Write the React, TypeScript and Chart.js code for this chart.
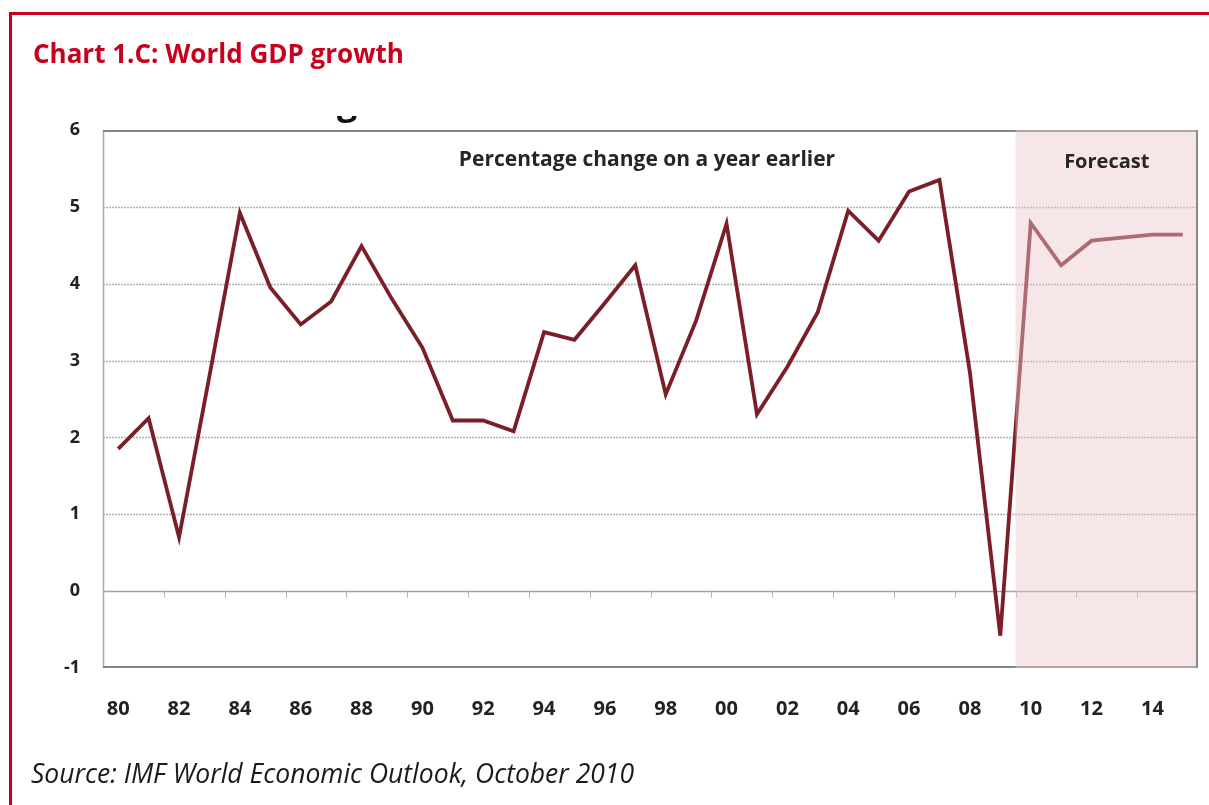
import React, { useEffect, useRef } from "react";
import { Chart, registerables } from "chart.js";

Chart.register(...registerables);

const years = [
  1980, 1981, 1982, 1983, 1984, 1985, 1986, 1987, 1988, 1989,
  1990, 1991, 1992, 1993, 1994, 1995, 1996, 1997, 1998, 1999,
  2000, 2001, 2002, 2003, 2004, 2005, 2006, 2007, 2008, 2009,
  2010, 2011, 2012, 2013, 2014, 2015,
];
const gdpGrowth = [
  1.85, 2.25, 0.7, 2.8, 4.92, 3.95, 3.47, 3.77, 4.49, 3.8,
  3.17, 2.22, 2.22, 2.08, 3.37, 3.27, 3.75, 4.24, 2.56, 3.52,
  4.78, 2.3, 2.92, 3.63, 4.95, 4.56, 5.2, 5.35, 2.85, -0.58,
  4.79, 4.24, 4.56, 4.6, 4.64, 4.64,
];
const yTicks = [-1, 0, 1, 2, 3, 4, 5, 6];
const forecastStartYear = 2010;
const titleText = "Chart 1.C: World GDP growth";
const noteText = "Percentage change on a year earlier";
const forecastText = "Forecast";
const sourceText = "Source: IMF World Economic Outlook, October 2010";

const RED = "#c8001e";
const LINE = "#7a1f28";
const CHART_FONT = "'Open Sans', sans-serif";

const framePlugin = {
  id: "framePlugin",
  beforeDatasetsDraw(chart: any) {
    const { ctx, chartArea: a, scales } = chart;
    const y = scales.y;
    const x = scales.x;
    ctx.save();
    for (const v of yTicks) {
      if (v === -1 || v === 6 || v === 0) continue;
      const py = Math.round(y.getPixelForValue(v)) + 0.5;
      ctx.strokeStyle = "#b0b0b0";
      ctx.lineWidth = 1.5;
      ctx.setLineDash([2, 1]);
      ctx.beginPath();
      ctx.moveTo(a.left, py);
      ctx.lineTo(a.right, py);
      ctx.stroke();
    }
    ctx.setLineDash([]);
    const p0 = Math.round(y.getPixelForValue(0)) + 0.5;
    ctx.strokeStyle = "#a0a0a0";
    ctx.lineWidth = 1.5;
    ctx.beginPath();
    ctx.moveTo(a.left, p0);
    ctx.lineTo(a.right, p0);
    ctx.stroke();
    ctx.strokeStyle = "#b0b0b0";
    ctx.lineWidth = 1;
    for (let i = 2; i < years.length; i += 2) {
      const bx = Math.round((x.getPixelForValue(i - 1) + x.getPixelForValue(i)) / 2) + 0.5;
      ctx.beginPath();
      ctx.moveTo(bx, p0);
      ctx.lineTo(bx, p0 + 6);
      ctx.stroke();
    }
    ctx.strokeStyle = "#a8a8a8";
    ctx.lineWidth = 1.5;
    ctx.beginPath();
    ctx.moveTo(a.left + 0.5, a.top);
    ctx.lineTo(a.left + 0.5, a.bottom);
    ctx.stroke();
    ctx.strokeStyle = "#858585";
    ctx.lineWidth = 2;
    ctx.beginPath();
    ctx.moveTo(a.left, a.top + 1);
    ctx.lineTo(a.right, a.top + 1);
    ctx.moveTo(a.left, a.bottom - 1);
    ctx.lineTo(a.right, a.bottom - 1);
    ctx.stroke();
    ctx.restore();
  },
  afterDatasetsDraw(chart: any) {
    const { ctx, chartArea: a, scales } = chart;
    const x = scales.x;
    const fi = years.indexOf(forecastStartYear);
    const fx = (x.getPixelForValue(fi - 1) + x.getPixelForValue(fi)) / 2;
    ctx.save();
    ctx.fillStyle = "rgba(236, 200, 203, 0.45)";
    ctx.fillRect(fx, a.top, a.right - fx, a.bottom - a.top);
    ctx.strokeStyle = "#8a8a8a";
    ctx.lineWidth = 2;
    ctx.beginPath();
    ctx.moveTo(a.right - 1, a.top);
    ctx.lineTo(a.right - 1, a.bottom);
    ctx.stroke();
    ctx.fillStyle = "#262626";
    ctx.textBaseline = "middle";
    ctx.textAlign = "center";
    ctx.font = `bold 21px ${CHART_FONT}`;
    ctx.fillText(noteText, 647, 160);
    ctx.font = `bold 20px ${CHART_FONT}`;
    ctx.fillText(forecastText, (fx + a.right) / 2, 162);
    ctx.restore();
  },
};

export default function App() {
  const ref = useRef<HTMLCanvasElement | null>(null);

  useEffect(() => {
    if (!ref.current) return;
    const chart = new Chart(ref.current, {
      type: "line",
      data: {
        labels: years.map(String),
        datasets: [
          {
            data: gdpGrowth,
            borderColor: LINE,
            borderWidth: 3.8,
            pointRadius: 0,
            tension: 0,
            fill: false,
          },
        ],
      },
      options: {
        responsive: false,
        animation: false,
        devicePixelRatio: 1,
        layout: { padding: { top: 130, right: 11, left: 0, bottom: 0 } },
        plugins: {
          legend: { display: false },
          tooltip: { enabled: false },
          title: { display: false },
        },
        scales: {
          x: {
            type: "category",
            offset: true,
            grid: {
              display: true,
              drawOnChartArea: false,
              drawTicks: true,
              tickLength: 29,
              color: "rgba(0,0,0,0)",
            },
            border: { display: false },
            ticks: {
              autoSkip: false,
              maxRotation: 0,
              padding: 0,
              color: "#222",
              font: { family: CHART_FONT, size: 20, weight: "bold" },
              callback: (_v: any, i: number) =>
                years[i] % 2 === 0 ? String(years[i]).slice(2) : "",
            },
            afterFit: (s: any) => {
              s.height = 137;
            },
          },
          y: {
            min: -1,
            max: 6,
            grid: { display: false, drawTicks: false },
            border: { display: false },
            ticks: {
              stepSize: 1,
              padding: 23,
              color: "#222",
              font: { family: CHART_FONT, size: 18, weight: "bold" },
            },
            afterFit: (s: any) => {
              s.width = 103;
            },
          },
        },
      },
      plugins: [framePlugin],
    } as any);
    return () => chart.destroy();
  }, []);

  return (
    <div
      style={{
        position: "fixed",
        left: 0,
        top: 0,
        width: 1209,
        height: 805,
        background: "#fff",
        overflow: "hidden",
      }}
    >
      <canvas
        ref={ref}
        width={1209}
        height={805}
        style={{ position: "absolute", left: 0, top: 0, width: 1209, height: 805 }}
      />
      <div
        style={{
          position: "absolute",
          left: 9,
          top: 12,
          width: 1200,
          height: 3,
          background: RED,
        }}
      />
      <div
        style={{
          position: "absolute",
          left: 9,
          top: 12,
          width: 3,
          height: 793,
          background: RED,
        }}
      />
      <div
        style={{
          position: "absolute",
          left: 337,
          top: 116,
          width: 26,
          height: 7,
          overflow: "hidden",
        }}
      >
        <span
          style={{
            position: "absolute",
            left: 0,
            top: -40,
            fontFamily: "'Open Sans', sans-serif",
            fontWeight: 700,
            fontSize: 36,
            lineHeight: "normal",
            color: "#111",
          }}
        >
          g
        </span>
      </div>
      <div
        style={{
          position: "absolute",
          left: 33,
          top: 35,
          color: RED,
          fontFamily: "'Open Sans', sans-serif",
          fontWeight: 700,
          fontSize: 26,
          lineHeight: "36px",
          whiteSpace: "nowrap",
        }}
      >
        {titleText}
      </div>
      <div
        style={{
          position: "absolute",
          left: 31,
          top: 755,
          color: "#1a1a1a",
          fontFamily: "'Open Sans', sans-serif",
          fontStyle: "italic",
          fontSize: 26.5,
          lineHeight: "36px",
          whiteSpace: "nowrap",
        }}
      >
        {sourceText}
      </div>
    </div>
  );
}
